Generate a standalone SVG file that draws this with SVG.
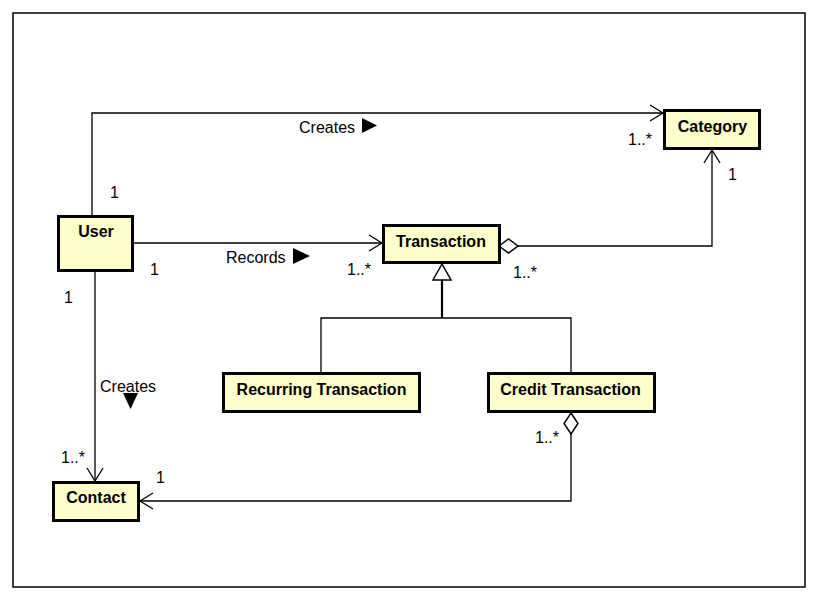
<svg xmlns="http://www.w3.org/2000/svg" width="818" height="601" viewBox="0 0 818 601">
<style>
.box{fill:#ffffcc;stroke:#000;stroke-width:3}
.name{font-family:"Liberation Sans",Arial,sans-serif;font-weight:bold;font-size:16px;text-anchor:middle;fill:#000}
.lbl{font-family:"Liberation Sans",Arial,sans-serif;font-size:16px;fill:#000}
.mult{font-family:"Liberation Sans",Arial,sans-serif;font-size:16px;fill:#000}
.con{fill:none;stroke:#000;stroke-width:1.3}
.open{fill:none;stroke:#000;stroke-width:1.3}
.dia{fill:#fff;stroke:#000;stroke-width:1.5}
</style>
<defs>
<marker id="arr" markerUnits="userSpaceOnUse" markerWidth="16" markerHeight="20" refX="14" refY="9" orient="auto" viewBox="0 0 16 20">
<path d="M1,1 L14,9 L1,17" class="open"/>
</marker>
</defs>
<rect x="13" y="13" width="792" height="574" fill="#fff" stroke="#000" stroke-width="1.5"/>
<g id="connectors">
<path class="con" d="M92,215 V113 H663" marker-end="url(#arr)"/>
<path class="con" d="M134,243 H382" marker-end="url(#arr)"/>
<path class="con" d="M95,272 V481" marker-end="url(#arr)"/>
<path class="con" d="M518,246 H712 V150" marker-end="url(#arr)"/>
<polygon class="dia" points="499,246 508.5,239 518,246 508.5,253"/>
<path class="con" d="M571,434 V501 H140" marker-end="url(#arr)"/>
<polygon class="dia" points="571,413 578,423.5 571,434 564,423.5"/>
<path d="M442,280 V318" fill="none" stroke="#000" stroke-width="2.2"/>
<path class="con" d="M321,372 V318 H571 V372"/>
<polygon points="442,264 433,280 451,280" fill="#fff" stroke="#000" stroke-width="1.5"/>
<text class="lbl" x="299" y="133">Creates</text>
<polygon points="362,118 377,125.5 362,133" fill="#000"/>
<text class="lbl" x="226" y="263">Records</text>
<polygon points="293,248 310,256 293,264" fill="#000"/>
<text class="lbl" x="100" y="392">Creates</text>
<polygon points="123,393 138,393 130.5,409" fill="#000"/>
<text class="mult" x="110" y="198">1</text>
<text class="mult" x="150" y="275">1</text>
<text class="mult" x="347" y="275">1..*</text>
<text class="mult" x="628" y="145">1..*</text>
<text class="mult" x="728" y="180">1</text>
<text class="mult" x="513" y="278">1..*</text>
<text class="mult" x="64" y="303">1</text>
<text class="mult" x="61" y="463">1..*</text>
<text class="mult" x="156" y="483">1</text>
<text class="mult" x="535" y="443">1..*</text>
</g>
<g id="user"><rect class="box" x="58.5" y="216.5" width="74" height="54"/><text class="name" x="96" y="237">User</text></g>
<g id="transaction"><rect class="box" x="383.5" y="225.5" width="116" height="37"/><text class="name" x="441" y="247">Transaction</text></g>
<g id="category"><rect class="box" x="664.5" y="110.5" width="95" height="38"/><text class="name" x="712.5" y="132">Category</text></g>
<g id="recurring"><rect class="box" x="223.5" y="373.5" width="196" height="38"/><text class="name" x="321.5" y="395">Recurring Transaction</text></g>
<g id="credit"><rect class="box" x="488.5" y="373.5" width="166" height="38"/><text class="name" x="570.5" y="395">Credit Transaction</text></g>
<g id="contact"><rect class="box" x="53.5" y="482.5" width="85" height="38"/><text class="name" x="96" y="503">Contact</text></g>
</svg>
